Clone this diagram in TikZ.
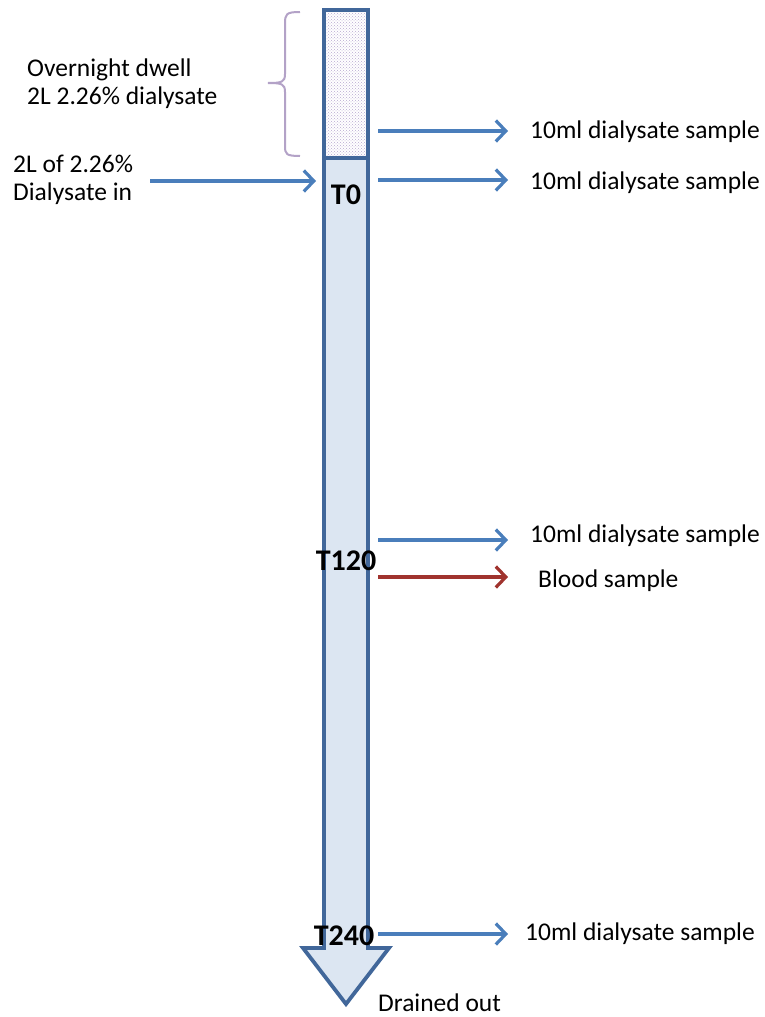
\documentclass[tikz,border=0pt]{standalone}
\usepackage{fontspec}
\setmainfont{Carlito}
\usetikzlibrary{arrows.meta,patterns}
\definecolor{tubeedge}{HTML}{41679A}
\definecolor{tubefill}{HTML}{DCE6F2}
\definecolor{arrblue}{HTML}{4A7EBB}
\definecolor{arrred}{HTML}{A0332E}
\definecolor{bracecol}{HTML}{B3A2C7}
\definecolor{dotcol}{HTML}{B8A8D0}
\tikzset{
  lbl/.style={anchor=west,font=\fontsize{25.5}{28}\selectfont,inner sep=0pt},
  tlbl/.style={font=\fontsize{30}{32}\selectfont\bfseries,inner sep=0pt},
  arr/.style={draw=arrblue,line width=3.2pt,-{Straight Barb[length=10pt,width=21pt,line width=3.2pt]}},
  redarr/.style={arr,draw=arrred},
}
\begin{document}
\begin{tikzpicture}[x=1pt,y=-1pt]
\useasboundingbox (0,0) rectangle (765,1017);
% big arrow (tube)
\draw[tubeedge,line width=3.8pt,fill=tubefill,line join=miter]
  (324,158) -- (368,158) -- (368,948) -- (389,948) -- (346,1004) -- (303,948) -- (324,948) -- cycle;
% overnight box
\fill[white] (324,10) rectangle (368,158);
\fill[pattern=crosshatch dots,pattern color=dotcol] (324,10) rectangle (368,158);
\draw[tubeedge,line width=3.8pt] (324,10) rectangle (368,158);
% brace
\draw[bracecol,line width=2pt] (300,12) .. controls (286,12) and (285,14) .. (285,24)
  -- (285,74) .. controls (285,82) and (282,83) .. (268,83)
  .. controls (282,83) and (285,84) .. (285,92) -- (285,146)
  .. controls (285,154) and (286,156) .. (300,156);
% labels
\node[lbl,align=left] (od) at (27,84) {Overnight dwell\\2L 2.26\% dialysate};
\node[lbl,align=left] (din) at (13,180) {2L of 2.26\%\\Dialysate in};
\node[tlbl] (t0) at (346,195) {T0};
\node[tlbl] (t120) at (346,561) {T120};
\node[tlbl] (t240) at (344,936) {T240};
\coordinate (inS) at (150,181);
\coordinate (inE) at (316,181);
\draw[arr] (inS) -- (inE);
% outputs
\coordinate (a1) at (378,131); \coordinate (b1) at (508,131);
\coordinate (a2) at (378,180); \coordinate (b2) at (508,180);
\coordinate (a3) at (378,540); \coordinate (b3) at (508,540);
\coordinate (a4) at (378,577); \coordinate (b4) at (508,577);
\coordinate (a5) at (378,934); \coordinate (b5) at (508,934);
\draw[arr] (a1) -- (b1);
\draw[arr] (a2) -- (b2);
\draw[arr] (a3) -- (b3);
\draw[redarr] (a4) -- (b4);
\draw[arr] (a5) -- (b5);
\node[lbl] (s1) at (530,132) {10ml dialysate sample};
\node[lbl] (s2) at (530,183) {10ml dialysate sample};
\node[lbl] (s3) at (530,536) {10ml dialysate sample};
\node[lbl] (s4) at (538,581) {Blood sample};
\node[lbl] (s5) at (525,934) {10ml dialysate sample};
\node[lbl] (dr) at (378,1003) {Drained out};
\end{tikzpicture}
\end{document}
